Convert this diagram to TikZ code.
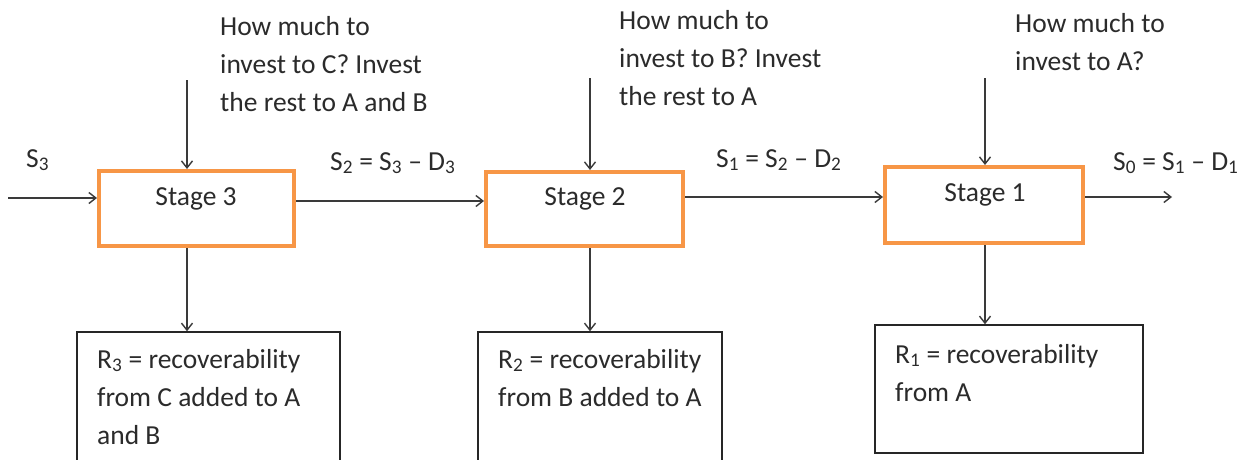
\documentclass[tikz,border=0pt]{standalone}
\usepackage{fontspec}
\setmainfont{Carlito}
\usetikzlibrary{arrows.meta}
\definecolor{stageorange}{HTML}{F79646}
\definecolor{txt}{HTML}{2B2B2B}
\definecolor{arrowgray}{HTML}{3A3A3A}
\begin{document}
\begin{tikzpicture}[x=1pt,y=-1pt,
  every node/.style={font=\fontsize{27.5}{38}\selectfont, text=txt},
  stagebox/.style={draw=stageorange, line width=4pt, inner sep=0pt, fill=white},
  resultbox/.style={draw=black!85, line width=1.5pt, inner sep=0pt},
  txtnode/.style={anchor=base west, inner sep=0pt, align=left},
  arr/.style={draw=arrowgray, line width=1.4pt, -{Straight Barb[length=7pt,width=11pt]}}
]
\useasboundingbox (0,0) rectangle (1242,459);
\fill[white] (0,0) rectangle (1242,459);

% stage boxes
\node[stagebox, minimum width=195pt, minimum height=75pt] (s3) at (196.5,208.5) {};
\node[stagebox, minimum width=197pt, minimum height=74pt] (s2) at (584.5,209) {};
\node[stagebox, minimum width=198pt, minimum height=76pt] (s1) at (984,205) {};
\node[anchor=base, inner sep=0pt] (s3t) at (196,205) {Stage 3};
\node[anchor=base, inner sep=0pt] (s2t) at (585,205) {Stage 2};
\node[anchor=base, inner sep=0pt] (s1t) at (985,201) {Stage 1};

% result boxes
\node[resultbox, minimum width=263pt, minimum height=132pt] (r3) at (208.5,398) {};
\node[resultbox, minimum width=244pt, minimum height=132pt] (r2) at (600,398) {};
\node[resultbox, minimum width=268pt, minimum height=128pt] (r1) at (1009,389) {};
% (anchor base = baseline of the last line)
\node[txtnode] (r3t) at (97,444) {R\textsubscript{3} = recoverability\\from C added to A\\and B};
\node[txtnode] (r2t) at (498,406) {R\textsubscript{2} = recoverability\\from B added to A};
\node[txtnode] (r1t) at (895,401) {R\textsubscript{1} = recoverability\\from A};

% top questions
\node[txtnode] (q3) at (220,111) {How much to\\invest to C? Invest\\the rest to A and B};
\node[txtnode] (q2) at (619,105) {How much to\\invest to B? Invest\\the rest to A};
\node[txtnode] (q1) at (1015,70) {How much to\\invest to A?};

% flow labels
\node[txtnode] (l3) at (26,167) {S\textsubscript{3}};
\node[txtnode] (l2) at (330,170) {S\textsubscript{2} = S\textsubscript{3} – D\textsubscript{3}};
\node[txtnode] (l1) at (716,167) {S\textsubscript{1} = S\textsubscript{2} – D\textsubscript{2}};
\node[txtnode] (l0) at (1113,170) {S\textsubscript{0} = S\textsubscript{1} – D\textsubscript{1}};

% coordinates for free ends
\coordinate (in) at (8,198);
\coordinate (out) at (1172,197);
\coordinate (a32) at (0,201);
\coordinate (a21) at (0,197);
\coordinate (t3) at (187,80);
\coordinate (t2) at (590,78);
\coordinate (t1) at (985,78);

% arrows
\draw[arr] (in) -- (in -| s3.west);
\draw[arr] (a32 -| s3.east) -- (a32 -| s2.west);
\draw[arr] (a21 -| s2.east) -- (a21 -| s1.west);
\draw[arr] (out -| s1.east) -- (out);
\draw[arr] (t3) -- (t3 |- s3.north);
\draw[arr] (t2) -- (t2 |- s2.north);
\draw[arr] (t1) -- (t1 |- s1.north);
\draw[arr] (t3 |- s3.south) -- (t3 |- r3.north);
\draw[arr] (t2 |- s2.south) -- (t2 |- r2.north);
\draw[arr] (t1 |- s1.south) -- (t1 |- r1.north);
\end{tikzpicture}
\end{document}
